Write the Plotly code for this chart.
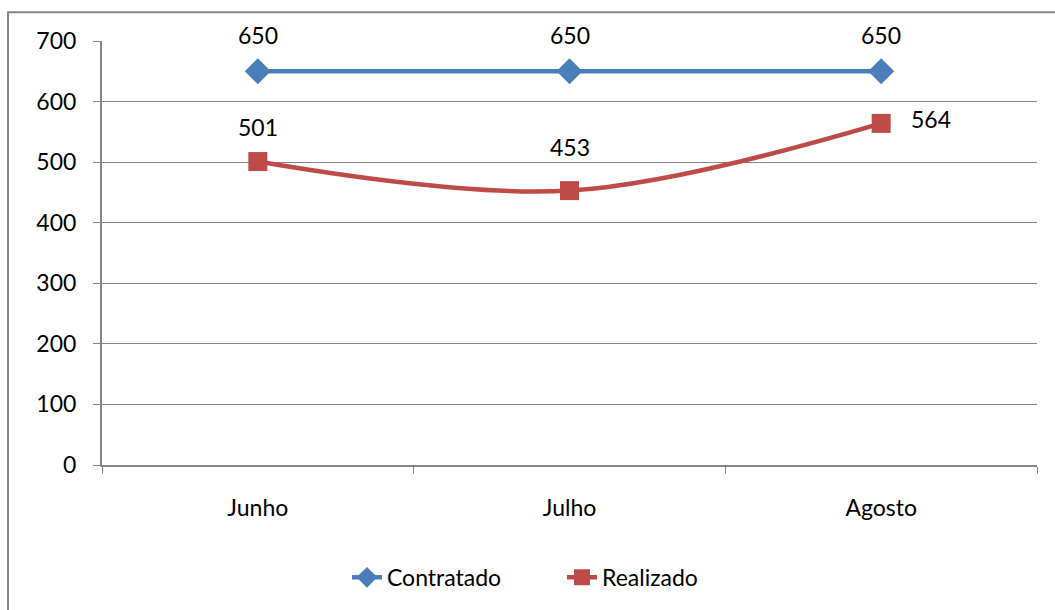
import plotly.graph_objects as go

months = ["Junho", "Julho", "Agosto"]
contratado = [650, 650, 650]
realizado = [501, 453, 564]

BLUE = "#4A7EBB"
RED = "#BE4B48"
GRID = "#868686"
FONT = "Lato"

fig = go.Figure()
fig.add_trace(go.Scatter(
    x=months, y=contratado, name="Contratado", mode="lines+markers",
    line=dict(color=BLUE, width=4.5),
    marker=dict(symbol="diamond", size=20, color=BLUE),
))
fig.add_trace(go.Scatter(
    x=months, y=realizado, name="Realizado", mode="lines+markers",
    line=dict(color=RED, width=4.5, shape="spline", smoothing=1),
    marker=dict(symbol="square", size=19, color=RED),
))

annotations = []
for m, v in zip(months, contratado):
    annotations.append(dict(x=m, y=v, text=str(v), showarrow=False, yshift=36,
                            font=dict(size=23, color="black", family=FONT)))
shifts = [(0, 35), (0, 44), (50, 4)]
for m, v, (xs, ys) in zip(months, realizado, shifts):
    annotations.append(dict(x=m, y=v, text=str(v), showarrow=False, xshift=xs, yshift=ys,
                            font=dict(size=23, color="black", family=FONT)))

fig.update_layout(
    width=1055, height=610,
    margin=dict(l=102, r=18, t=41, b=144),
    paper_bgcolor="white", plot_bgcolor="white",
    font=dict(family=FONT, size=23, color="black"),
    showlegend=True,
    legend=dict(orientation="h", x=0.262, xanchor="left", y=-0.262, yanchor="middle",
                font=dict(size=23), entrywidth=170, entrywidthmode="pixels",
                bgcolor="rgba(0,0,0,0)"),
    annotations=annotations,
    shapes=[dict(type="rect", xref="paper", yref="paper",
                 x0=-0.1005, x1=1.2, y0=-0.5, y1=1.068,
                 line=dict(color=GRID, width=2), fillcolor="rgba(0,0,0,0)", layer="below")],
)
fig.update_xaxes(
    range=[-0.5, 2.5], showgrid=False, showline=True, linecolor=GRID, linewidth=2,
    ticks="outside", tickson="boundaries", ticklen=7, tickcolor=GRID, tickwidth=1,
    ticklabelstandoff=21, zeroline=False,
)
fig.update_yaxes(
    range=[0, 700], dtick=100, showgrid=True, gridcolor=GRID, gridwidth=1,
    showline=True, linecolor=GRID, linewidth=2, ticks="outside", ticklen=7,
    tickcolor=GRID, tickwidth=1, ticklabelstandoff=12, zeroline=False,
)

fig.write_html("out.html")
